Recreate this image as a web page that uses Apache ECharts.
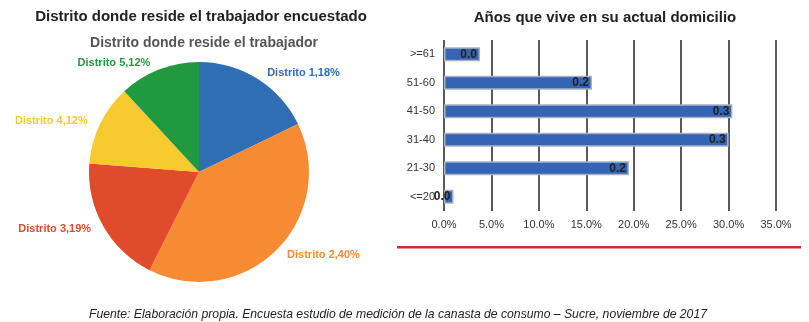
<!DOCTYPE html>
<html>
<head>
<meta charset="utf-8">
<script src="https://cdn.jsdelivr.net/npm/echarts@6/dist/echarts.min.js"></script>
<style>
  html, body { margin: 0; padding: 0; background: #fff; }
  #main { width: 809px; height: 322px; }
</style>
</head>
<body>
<div id="main"></div>
<script>
// Pie: district of residence
var districtNames = ['Distrito 1', 'Distrito 2', 'Distrito 3', 'Distrito 4', 'Distrito 5'];
var districtValues = [18, 40, 19, 12, 12];
var districtColors = ['#2f6db5', '#f68b33', '#e04b2b', '#f7ca2e', '#21993f'];

// Bars: years living at current home (fractions)
var ageCats = ['<=20', '21-30', '31-40', '41-50', '51-60', '>=61'];
var ageValues = [0.010, 0.195, 0.300, 0.304, 0.156, 0.038];

var FONT = 'Liberation Sans, Arial, sans-serif';

var chart = echarts.init(document.getElementById('main'));
chart.setOption({
  animation: false,
  title: [
    { text: 'Distrito donde reside el trabajador encuestado', left: 196, top: 4, textAlign: 'center',
      textStyle: { fontFamily: FONT, fontSize: 15, fontWeight: 'bold', color: '#222' } },
    { text: 'Distrito donde reside el trabajador', left: 199, top: 31, textAlign: 'center',
      textStyle: { fontFamily: FONT, fontSize: 14, fontWeight: 'bold', color: '#555' } },
    { text: 'Años que vive en su actual domicilio', left: 600, top: 5, textAlign: 'center',
      textStyle: { fontFamily: FONT, fontSize: 15, fontWeight: 'bold', color: '#222' } },
    { text: 'Fuente: Elaboración propia. Encuesta estudio de medición de la canasta de consumo – Sucre, noviembre de 2017',
      left: 393, top: 304, textAlign: 'center',
      textStyle: { fontFamily: FONT, fontSize: 12.2,
        fontStyle: 'italic', fontWeight: 'normal', color: '#222' } }
  ],
  graphic: [
    { type: 'rect', shape: { x: 397, y: 246, width: 404, height: 2.5 }, style: { fill: '#d52b2b' } }
  ],
  grid: { left: 444, right: 33, top: 40, bottom: 111 },
  xAxis: {
    type: 'value', min: 0, max: 0.35, interval: 0.05,
    axisLine: { show: false }, axisTick: { show: false },
    splitLine: { show: true, lineStyle: { color: '#222', width: 1.5 } },
    axisLabel: { margin: 8, fontFamily: FONT, fontSize: 11, color: '#333',
      formatter: function (v) { return (v * 100).toFixed(1) + '%'; } }
  },
  yAxis: {
    type: 'category', data: ageCats,
    axisLine: { show: false }, axisTick: { show: false },
    axisLabel: { margin: 9, fontFamily: FONT, fontSize: 11, color: '#333' }
  },
  series: [
    {
      type: 'pie', center: [199, 172], radius: 110, startAngle: 90, clockwise: true,
      data: districtNames.map(function (n, i) {
        return { name: n, value: districtValues[i], itemStyle: { color: districtColors[i] },
          label: { color: districtColors[i] } };
      }),
      label: { position: 'outside', overflow: 'none', fontFamily: FONT, fontSize: 11, fontWeight: 'bold',
        formatter: function (p) { return p.name + ',' + p.value + '%'; } },
      labelLine: { show: false, length: 7, length2: 1 }
    },
    {
      type: 'bar', data: ageValues, barWidth: 14,
      itemStyle: { color: '#3464b4', borderColor: '#a9b1c0', borderWidth: 1.5 },
      label: { show: true, position: 'insideRight', distance: 3, fontFamily: FONT, fontSize: 12,
        fontWeight: 'bold', color: '#222', formatter: function (p) { return p.value.toFixed(1); } }
    }
  ]
});
</script>
</body>
</html>
